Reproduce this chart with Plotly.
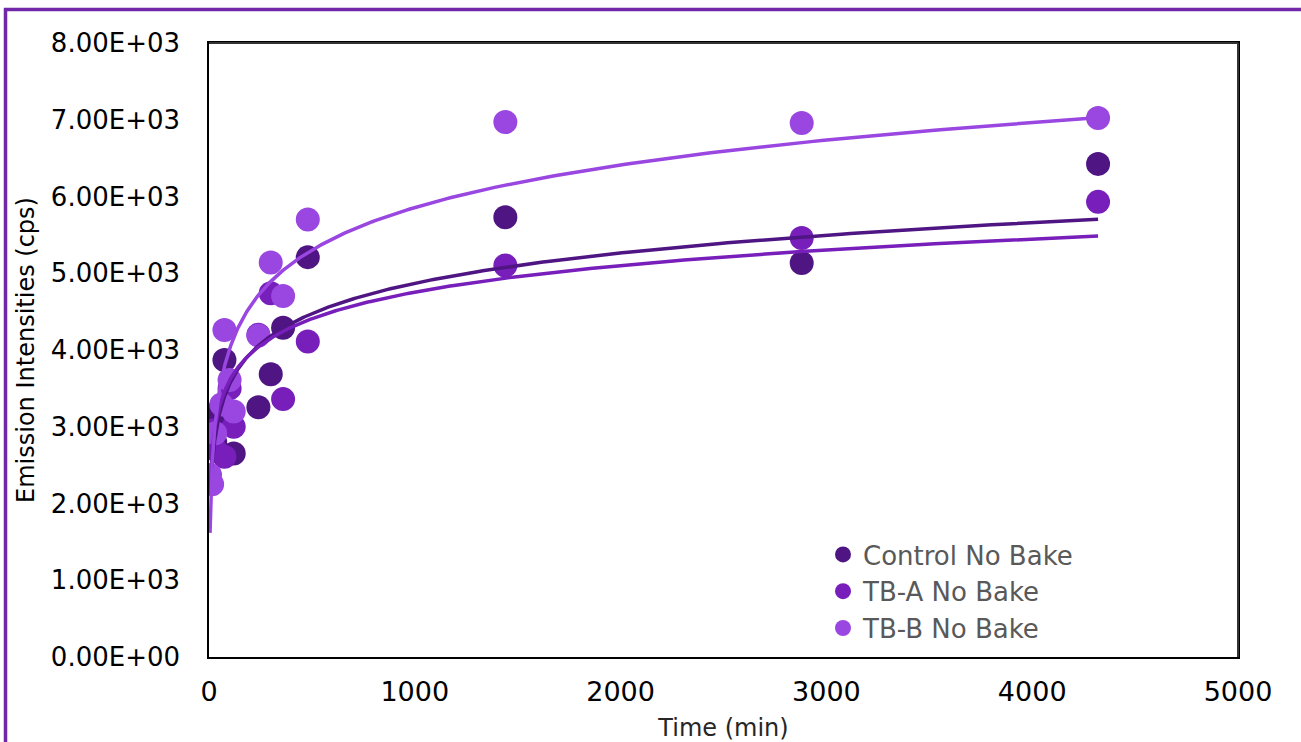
import numpy as np
import plotly.graph_objects as go

# ---------------- data ----------------
series_names = ["Control No Bake", "TB-A No Bake", "TB-B No Bake"]
series_colors = ["#4E1583", "#771EBB", "#9A46E0"]

control_time = [5, 15, 30, 75, 100, 120, 240, 300, 360, 480, 1440, 2880, 4320]
control_cps = [3150, 2750, 2800, 3870, 3050, 2650, 3255, 3685, 4290, 5210, 5730, 5135, 6425]

tba_time = [5, 15, 30, 75, 100, 120, 240, 300, 360, 480, 1440, 2880, 4320]
tba_cps = [2780, 2950, 2700, 2610, 3500, 3000, 4200, 4740, 3360, 4110, 5100, 5460, 5930]

tbb_time = [5, 15, 30, 60, 75, 100, 120, 240, 300, 360, 480, 1440, 2880, 4320]
tbb_cps = [2370, 2250, 2915, 3290, 4260, 3610, 3200, 4190, 5140, 4705, 5700, 6970, 6958, 7023]

# logarithmic trendlines y = slope*ln(t) + intercept
trend_slope = [570, 500, 800]
trend_intercept = [932, 1300, 330]
trend_start = [15, 5, 5]

x_ticks = [0, 1000, 2000, 3000, 4000, 5000]
y_ticks = [0, 1000, 2000, 3000, 4000, 5000, 6000, 7000, 8000]
y_ticklabels = [f"{v:.2E}" for v in y_ticks]

times = [control_time, tba_time, tbb_time]
values = [control_cps, tba_cps, tbb_cps]

# ---------------- figure ----------------
W, H = 1301, 742
L, R, T, B = 209, 63, 43, 85

fig = go.Figure()

for name, col, t, v in zip(series_names, series_colors, times, values):
    fig.add_trace(go.Scatter(
        x=t, y=v, mode="markers", name=name,
        marker=dict(size=24, color=col, line=dict(width=0)),
    ))

for col, t, a, b, t0 in zip(series_colors, times, trend_slope, trend_intercept, trend_start):
    xs = np.geomspace(t0, max(t), 400)
    fig.add_trace(go.Scatter(
        x=xs, y=a * np.log(xs) + b, mode="lines", showlegend=False,
        line=dict(color=col, width=3.5), hoverinfo="skip",
    ))

pw = W - L - R
ph = H - T - B


def px_x(p):
    return (p - L) / pw


def px_y(p):
    return (H - B - p) / ph


border = "#7027A8"
fig.add_shape(type="line", xref="paper", yref="paper",
              x0=px_x(4), x1=px_x(1301), y0=px_y(9.5), y1=px_y(9.5),
              line=dict(color=border, width=3.5))
fig.add_shape(type="line", xref="paper", yref="paper",
              x0=px_x(5.5), x1=px_x(5.5), y0=px_y(8), y1=px_y(742),
              line=dict(color=border, width=3.5))
# slightly heavier grey top/right frame edges as in the reference
fig.add_shape(type="line", xref="paper", yref="paper", x0=0, x1=1, y0=1, y1=1,
              line=dict(color="#333333", width=2))
fig.add_shape(type="line", xref="paper", yref="paper", x0=1, x1=1, y0=0, y1=1,
              line=dict(color="#333333", width=2))

fig.update_layout(
    width=W, height=H, autosize=False,
    margin=dict(l=L, r=R, t=T, b=B, autoexpand=False),
    paper_bgcolor="white", plot_bgcolor="white",
    font=dict(family="DejaVu Sans", color="#000000"),
    showlegend=True,
    legend=dict(
        x=px_x(823), y=px_y(531), xanchor="left", yanchor="top",
        font=dict(family="DejaVu Sans", size=26, color="#595959"),
        bgcolor="rgba(0,0,0,0)", tracegroupgap=0, itemwidth=30,
    ),
    xaxis=dict(
        range=[0, 5000], tickvals=x_ticks, automargin=False,
        showline=True, mirror=True, linecolor="#000000", linewidth=1.5,
        showgrid=False, zeroline=False, ticks="",
        tickfont=dict(family="DejaVu Sans", size=27, color="#000000"),
        ticklabelstandoff=10,
        title=dict(text="Time (min)", standoff=15,
                   font=dict(family="DejaVu Sans", size=24, color="#262626")),
    ),
    yaxis=dict(
        range=[0, 8000], tickvals=y_ticks, ticktext=y_ticklabels, automargin=False,
        showline=True, mirror=True, linecolor="#000000", linewidth=1.5,
        showgrid=False, zeroline=False, ticks="",
        tickfont=dict(family="DejaVu Sans", size=26, color="#000000"),
        ticklabelstandoff=22,
        title=dict(text="Emission Intensities (cps)", standoff=9,
                   font=dict(family="DejaVu Sans", size=24, color="#000000")),
    ),
)

fig.write_html(
    "out.html",
    config={"displayModeBar": False},
    post_script="document.body.style.margin='0px';document.body.style.padding='0px';"
                "document.body.style.overflow='hidden';",
)
